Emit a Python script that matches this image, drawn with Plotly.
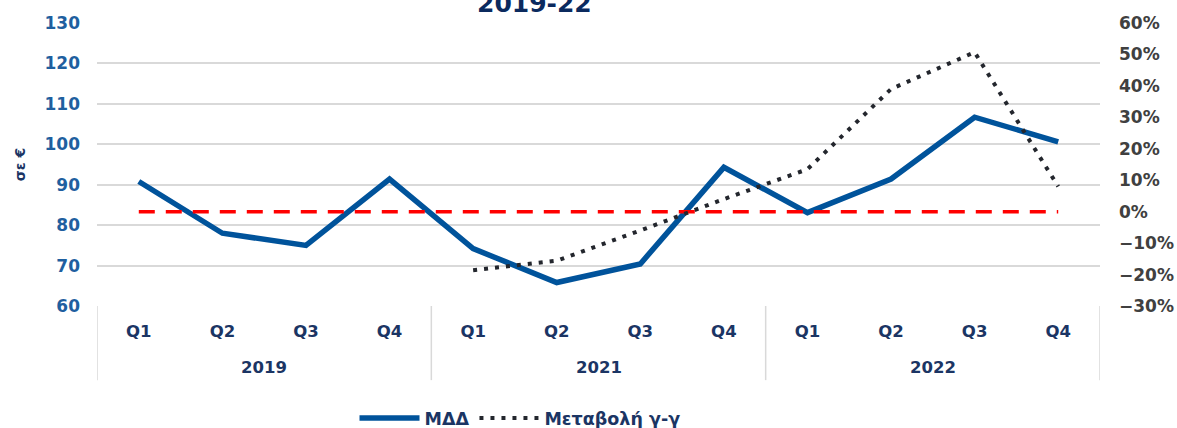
import plotly.graph_objects as go

years = ["2019"] * 4 + ["2021"] * 4 + ["2022"] * 4
quarters = ["Q1", "Q2", "Q3", "Q4"] * 3
mdd = [90.8, 78.0, 75.0, 91.4, 74.2, 65.8, 70.4, 94.3, 83.1, 91.4, 106.7, 100.6]
yoy = [None, None, None, None, -18.6, -15.6, -6.0, 4.0, 13.5, 39.0, 50.7, 8.0]
zero_line = [0] * 12

NAVY = "#1b3564"
FONT = "DejaVu Sans"

cats = [f"{y} {q}" for y, q in zip(years, quarters)]
n = len(cats)

fig = go.Figure()
fig.add_trace(go.Scatter(
    x=cats, y=zero_line, yaxis="y2", mode="lines",
    line=dict(color="#ff0000", width=3.5, dash="16px,11px"),
    showlegend=False, hoverinfo="skip"))
fig.add_trace(go.Scatter(
    x=cats, y=mdd, name="ΜΔΔ", mode="lines",
    line=dict(color="#00539b", width=5.5)))
fig.add_trace(go.Scatter(
    x=cats, y=yoy, yaxis="y2", name="Μεταβολή γ-γ", mode="lines",
    line=dict(color="#23262d", width=4, dash="4px,7px")))

# group boundaries and year labels
groups = []
for i, y in enumerate(years):
    if not groups or groups[-1][0] != y:
        groups.append([y, i, i])
    else:
        groups[-1][2] = i

shapes = []
annotations = []
bounds = sorted({g[1] - 0.5 for g in groups} | {g[2] + 0.5 for g in groups})
for b in bounds:
    shapes.append(dict(type="line", xref="x", yref="paper", x0=b, x1=b,
                       y0=0, y1=-0.262, line=dict(color="#d9d9d9", width=1.5)))
for y, s, e in groups:
    annotations.append(dict(text=f"<b>{y}</b>", xref="x", yref="paper",
                            x=(s + e) / 2, y=-0.216, yanchor="middle",
                            showarrow=False,
                            font=dict(size=16.5, color=NAVY, family=FONT)))
annotations.append(dict(text="<b>2019-22</b>", xref="paper", yref="paper",
                        x=(534 - 97) / 1003, xanchor="center",
                        y=1 + 19 / 283, yanchor="middle", showarrow=False,
                        font=dict(size=25, color="#0b2a5e", family=FONT)))

fig.update_layout(
    width=1177, height=428,
    margin=dict(l=97, r=77, t=23, b=122),
    paper_bgcolor="white", plot_bgcolor="white",
    font=dict(family=FONT, color=NAVY),
    xaxis=dict(
        type="category", range=[-0.5, n - 0.5], automargin=False,
        tickmode="array", tickvals=cats, ticktext=quarters,
        showgrid=False, zeroline=False, showline=False, ticks="",
        ticklabelstandoff=13,
        tickfont=dict(size=16.5, color=NAVY, family=FONT, weight="bold"),
    ),
    yaxis=dict(
        range=[60, 130], dtick=10, showgrid=True, gridcolor="#d9d9d9",
        gridwidth=1.5, zeroline=False, showline=False, ticks="",
        automargin=False,
        tickfont=dict(size=17, color="#1f5f9f", family=FONT, weight="bold"),
        title=dict(text="σε €", standoff=15,
                   font=dict(size=14, color=NAVY, family=FONT, weight="bold")),
        ticklabelstandoff=16,
    ),
    yaxis2=dict(
        range=[-30, 60], dtick=10, overlaying="y", side="right",
        showgrid=False, zeroline=False, showline=False, ticks="",
        ticksuffix="%", automargin=False,
        tickfont=dict(size=17, color="#404040", family=FONT, weight="bold"),
        ticklabelstandoff=18,
    ),
    shapes=shapes,
    annotations=annotations,
    legend=dict(orientation="h", xref="container", yref="container",
                x=520 / 1177, xanchor="center", y=1 - 418 / 428, yanchor="middle",
                font=dict(size=17.5, color=NAVY, family=FONT, weight="bold"),
                itemwidth=60),
)

fig.write_html("out.html", config={"displayModeBar": False},
               post_script="document.body.style.margin='0';")
